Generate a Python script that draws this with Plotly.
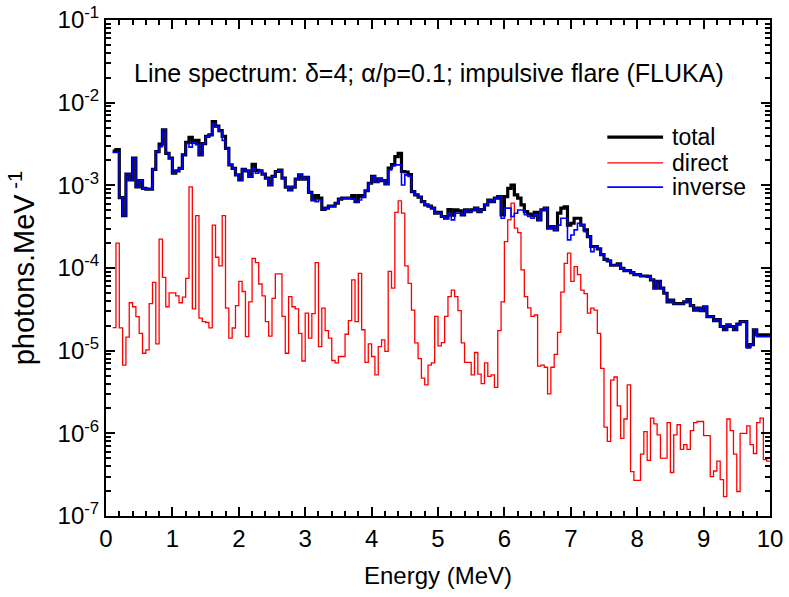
import numpy as np
import plotly.graph_objects as go

# bins of 0.05 MeV starting at 0.10 MeV
E_START = 0.10
E_STEP = 0.05

total = [
    2.6e-3, 2.7e-3, 7.1e-4, 4.3e-4, 1.37e-3, 1.16e-3, 2.13e-3, 9.6e-4, 1.14e-3, 9.2e-4,
    9.0e-4, 9.0e-4, 1.56e-3, 2.56e-3, 3.16e-3, 4.7e-3, 2.44e-3, 2.13e-3, 1.4e-3, 1.5e-3,
    1.6e-3, 2.33e-3, 3.3e-3, 3.8e-3, 3.3e-3, 3.5e-3, 2.33e-3, 3.2e-3, 3.9e-3, 4.07e-3,
    5.9e-3, 5.2e-3, 4.6e-3, 3.9e-3, 2.8e-3, 1.77e-3, 1.6e-3, 1.34e-3, 1.16e-3, 1.56e-3,
    1.5e-3, 1.28e-3, 1.8e-3, 1.52e-3, 1.5e-3, 1.37e-3, 1.22e-3, 1.01e-3, 1.28e-3, 1.47e-3,
    1.53e-3, 1.22e-3, 9.5e-4, 8.8e-4, 9.5e-4, 1.19e-3, 1.34e-3, 1.19e-3, 1.25e-3, 8.2e-4,
    6.65e-4, 7.5e-4, 7.0e-4, 5.1e-4, 5.3e-4, 5.6e-4, 5.6e-4, 6.07e-4, 6.8e-4, 7.0e-4,
    7.0e-4, 7.0e-4, 7.5e-4, 6.35e-4, 7.5e-4, 7.3e-4, 8.6e-4, 1.06e-3, 1.28e-3, 1.11e-3,
    1.2e-3, 1.14e-3, 1.04e-3, 1.62e-3, 1.78e-3, 2.22e-3, 2.44e-3, 1.47e-3, 1.45e-3, 1.35e-3,
    8.4e-4, 7.65e-4, 7.2e-4, 6.35e-4, 5.8e-4, 5.6e-4, 5.3e-4, 4.6e-4, 4.7e-4, 4.2e-4,
    4.0e-4, 5.1e-4, 4.35e-4, 5.05e-4, 4.9e-4, 4.4e-4, 5.04e-4, 4.8e-4, 5.04e-4, 5.3e-4,
    4.8e-4, 5.1e-4, 5.8e-4, 6.65e-4, 6.35e-4, 7.0e-4, 7.3e-4, 4.4e-4, 7.3e-4, 9.2e-4,
    1.01e-3, 7.65e-4, 7.0e-4, 5.8e-4, 4.8e-4, 4.5e-4, 4.3e-4, 4.7e-4, 3.82e-4, 5.04e-4,
    5.3e-4, 3.03e-4, 3.17e-4, 2.89e-4, 4.6e-4, 5.3e-4, 5.5e-4, 3.3e-4, 3.48e-4, 4.0e-4,
    4.0e-4, 3.3e-4, 2.89e-4, 2.4e-4, 1.82e-4, 1.82e-4, 1.7e-4, 1.45e-4, 1.27e-4, 1.22e-4,
    1.08e-4, 1.08e-4, 1.12e-4, 9.9e-5, 9.3e-5, 9.3e-5, 8.8e-5, 8.3e-5, 8.3e-5, 8.0e-5,
    8.0e-5, 7.9e-5, 7.2e-5, 5.7e-5, 6.9e-5, 5.7e-5, 4.95e-5, 3.9e-5, 4.1e-5, 3.7e-5,
    3.7e-5, 3.7e-5, 3.9e-5, 4.15e-5, 3.5e-5, 3.1e-5, 3.27e-5, 3.05e-5, 3.4e-5, 2.58e-5,
    2.58e-5, 2.31e-5, 2.38e-5, 1.96e-5, 1.79e-5, 2.05e-5, 1.96e-5, 1.79e-5, 2.1e-5, 2.25e-5,
    2.25e-5, 1.12e-5, 1.18e-5, 1.79e-5, 1.55e-5, 1.55e-5, 1.55e-5, 1.55e-5,
]

direct = [
    1.9e-5, 2.0e-4, 1.89e-5, 6.7e-6, 1.46e-5, 3.8e-5, 3.4e-5, 2.58e-5, 1.62e-5, 9.3e-6,
    1.02e-5, 3.7e-5, 6.7e-5, 1.21e-5, 2.23e-4, 7.7e-5, 3.4e-5, 5.0e-5, 5.0e-5, 4.6e-5,
    3.8e-5, 4.45e-5, 7.5e-5, 9.6e-4, 3.2e-5, 4.3e-4, 2.47e-5, 2.25e-5, 2.19e-5, 1.89e-5,
    3.3e-4, 1.35e-4, 1.06e-4, 4.3e-4, 3.27e-5, 1.42e-5, 1.88e-5, 3.5e-5, 6.9e-5, 5.2e-5,
    1.48e-5, 3.9e-5, 1.31e-4, 1.16e-4, 6.4e-5, 4.6e-5, 2.25e-5, 1.5e-5, 4.3e-5, 8.5e-5,
    8.5e-5, 2.6e-5, 9.3e-6, 4.5e-5, 3.4e-5, 3.2e-5, 1.62e-5, 7.5e-6, 2.84e-5, 1.42e-5,
    2.8e-5, 1.16e-4, 1.12e-5, 3.27e-5, 1.75e-5, 1.42e-5, 7.6e-6, 7.1e-6, 8.5e-6, 8.5e-6,
    1.58e-5, 2.31e-5, 7.2e-5, 2.25e-5, 8.6e-5, 1.79e-5, 7.2e-6, 1.21e-5, 8.5e-6, 5.1e-6,
    1.12e-5, 1.35e-5, 9.8e-6, 9.1e-5, 5.7e-5, 4.7e-4, 6.5e-4, 4.6e-4, 1.06e-4, 6.5e-5,
    3.1e-5, 1.24e-5, 8.0e-6, 4.65e-6, 3.86e-6, 6.7e-6, 7.1e-6, 2.6e-5, 1.14e-5, 1.25e-5,
    2.6e-5, 4.5e-5, 5.4e-5, 4.5e-5, 3.05e-5, 1.24e-5, 7.2e-6, 7.2e-6, 5.1e-6, 9.5e-6,
    5.2e-6, 4.0e-6, 7.1e-6, 4.9e-6, 5.1e-6, 3.6e-6, 1.75e-5, 3.9e-5, 2.08e-4, 3.82e-4,
    6.1e-4, 3.03e-4, 2.68e-4, 9.5e-5, 4.5e-5, 3.3e-5, 2.6e-5, 2.7e-5, 6.5e-6, 6.7e-6,
    6.3e-6, 3.0e-6, 6.3e-6, 9.0e-6, 1.66e-5, 5.1e-5, 1.14e-4, 1.51e-4, 6.9e-5, 1.04e-4,
    8.3e-5, 5.4e-5, 4.9e-5, 2.84e-5, 3.27e-5, 3.1e-5, 1.62e-5, 6.1e-6, 1.19e-6, 8.0e-7,
    4.4e-6, 4.8e-6, 2.15e-6, 8.7e-7, 1.49e-6, 3.86e-6, 3.45e-7, 2.7e-7, 2.7e-7, 5.6e-7,
    1.05e-6, 4.7e-7, 1.53e-6, 1.3e-6, 9.6e-7, 5.0e-7, 5.0e-7, 1.35e-6, 3.36e-7, 9.6e-7,
    1.27e-6, 6.4e-7, 7.3e-7, 6.4e-7, 1.08e-6, 1.35e-6, 1.39e-6, 1.39e-6, 9.4e-7, 9.4e-7,
    3.0e-7, 3.5e-7, 4.6e-7, 2.75e-7, 1.72e-7, 1.49e-6, 1.08e-6, 5.6e-7, 1.98e-7, 1.0e-6,
    1.0e-6, 1.23e-6, 7.3e-7, 5.7e-7, 1.35e-6, 1.53e-6, 4.8e-7, 4.6e-7,
]

inverse = [
    2.5e-3, 2.5e-3, 7.1e-4, 4.3e-4, 1.37e-3, 1.16e-3, 2.13e-3, 9.6e-4, 1.14e-3, 9.2e-4,
    9.0e-4, 9.0e-4, 1.56e-3, 2.56e-3, 2.94e-3, 4.7e-3, 2.44e-3, 2.13e-3, 1.4e-3, 1.5e-3,
    1.6e-3, 2.33e-3, 3.2e-3, 2.9e-3, 3.3e-3, 3.1e-3, 2.33e-3, 3.2e-3, 3.9e-3, 4.07e-3,
    5.6e-3, 5.1e-3, 4.5e-3, 3.5e-3, 2.8e-3, 1.77e-3, 1.6e-3, 1.34e-3, 1.16e-3, 1.56e-3,
    1.5e-3, 1.28e-3, 1.6e-3, 1.4e-3, 1.5e-3, 1.37e-3, 1.22e-3, 1.01e-3, 1.28e-3, 1.47e-3,
    1.53e-3, 1.22e-3, 9.5e-4, 8.8e-4, 9.5e-4, 1.19e-3, 1.34e-3, 1.19e-3, 1.25e-3, 8.2e-4,
    6.65e-4, 6.35e-4, 6.65e-4, 5.1e-4, 5.3e-4, 5.6e-4, 5.6e-4, 6.07e-4, 6.8e-4, 7.0e-4,
    7.0e-4, 7.0e-4, 6.8e-4, 6.35e-4, 6.65e-4, 7.3e-4, 8.6e-4, 1.06e-3, 1.28e-3, 1.11e-3,
    1.2e-3, 1.14e-3, 1.04e-3, 1.53e-3, 1.72e-3, 1.77e-3, 1.77e-3, 1.01e-3, 1.34e-3, 1.28e-3,
    8.4e-4, 7.65e-4, 7.2e-4, 6.35e-4, 5.8e-4, 5.6e-4, 5.3e-4, 4.6e-4, 4.7e-4, 4.2e-4,
    4.0e-4, 4.6e-4, 3.82e-4, 4.6e-4, 4.6e-4, 4.4e-4, 5.04e-4, 4.8e-4, 5.04e-4, 5.3e-4,
    4.8e-4, 5.1e-4, 5.8e-4, 6.65e-4, 6.35e-4, 7.0e-4, 7.3e-4, 4.0e-4, 5.3e-4, 5.3e-4,
    4.2e-4, 4.6e-4, 5.04e-4, 5.04e-4, 4.4e-4, 4.2e-4, 4.0e-4, 4.4e-4, 3.82e-4, 5.04e-4,
    5.3e-4, 3.03e-4, 3.17e-4, 2.89e-4, 3.3e-4, 4.0e-4, 4.0e-4, 2.19e-4, 2.51e-4, 2.89e-4,
    3.48e-4, 3.3e-4, 2.75e-4, 2.4e-4, 1.58e-4, 1.82e-4, 1.7e-4, 1.45e-4, 1.27e-4, 1.22e-4,
    1.08e-4, 1.08e-4, 1.12e-4, 9.9e-5, 9.3e-5, 9.3e-5, 8.8e-5, 8.3e-5, 8.3e-5, 8.0e-5,
    8.0e-5, 7.9e-5, 7.2e-5, 5.7e-5, 6.9e-5, 5.7e-5, 4.95e-5, 3.9e-5, 4.1e-5, 3.7e-5,
    3.7e-5, 3.7e-5, 3.9e-5, 4.15e-5, 3.5e-5, 3.1e-5, 3.27e-5, 3.05e-5, 3.4e-5, 2.58e-5,
    2.58e-5, 2.31e-5, 2.38e-5, 1.96e-5, 1.79e-5, 2.05e-5, 1.96e-5, 1.79e-5, 2.1e-5, 2.25e-5,
    2.25e-5, 1.08e-5, 1.18e-5, 1.79e-5, 1.48e-5, 1.48e-5, 1.48e-5, 1.48e-5,
]

y_decades = [1e-7, 1e-6, 1e-5, 1e-4, 1e-3, 1e-2, 1e-1]
y_ticktext = ["10<sup>-7</sup>", "10<sup>-6</sup>", "10<sup>-5</sup>", "10<sup>-4</sup>",
              "10<sup>-3</sup>", "10<sup>-2</sup>", "10<sup>-1</sup>"]

FONT = "Liberation Sans, Arial, sans-serif"

series = [("total", total, "black", 3.2),
          ("direct", direct, "#ff0000", 1.3),
          ("inverse", inverse, "#0000ff", 1.6)]


def steps(values):
    # bin edges + repeat last value so the final bin is drawn to its right edge
    edges = np.round(E_START + E_STEP * np.arange(len(values) + 1), 3)
    return edges, list(values) + [values[-1]]


fig = go.Figure()
for name, vals, color, width in series:
    x, y = steps(vals)
    fig.add_trace(go.Scatter(x=x, y=y, mode="lines", name=name, line_shape="hv",
                             line=dict(color=color, width=width), showlegend=False))

axis_common = dict(
    showline=True, linewidth=2, linecolor="black", mirror="ticks",
    ticks="inside", ticklen=9, tickwidth=1.5, tickcolor="black",
    showgrid=False, zeroline=False, automargin=False, ticklabeloverflow="allow",
    tickfont=dict(family=FONT, size=24, color="black"),
)

fig.update_xaxes(
    range=[0, 10], dtick=1, tick0=0,
    minor=dict(dtick=0.2, ticks="inside", ticklen=5, tickwidth=1.5, tickcolor="black"),
    title=dict(text="Energy (MeV)", font=dict(family=FONT, size=24, color="black"), standoff=16),
    **axis_common,
)
fig.update_yaxes(
    type="log", range=[-7, -1], tickmode="array", tickvals=y_decades, ticktext=y_ticktext,
    minor=dict(tickvals=[m * d for d in y_decades[:-1] for m in range(2, 10)],
               ticks="inside", ticklen=5, tickwidth=1.5, tickcolor="black"),
    title=dict(text="photons.MeV<sup> -1</sup>", font=dict(family=FONT, size=29, color="black"),
               standoff=14),
    **axis_common,
)

fig.add_annotation(
    text="Line spectrum: \u03b4=4; \u03b1/p=0.1; impulsive flare (FLUKA)",
    xref="paper", yref="paper", x=0.487, y=0.925, showarrow=False,
    font=dict(family=FONT, size=25, color="black"),
)

# legend drawn in the top-right corner: short line sample + label
legend_rows = [0.764, 0.712, 0.663]
for (name, _, color, width), ly in zip(series, legend_rows):
    fig.add_shape(type="line", xref="paper", yref="paper", x0=0.755, x1=0.839, y0=ly, y1=ly,
                  line=dict(color=color, width=width))
    fig.add_annotation(text=name, xref="paper", yref="paper", x=0.849, y=ly,
                       xanchor="left", yanchor="middle", showarrow=False,
                       font=dict(family=FONT, size=23, color="black"))

fig.update_layout(
    width=789, height=597,
    paper_bgcolor="white", plot_bgcolor="white",
    margin=dict(l=106, r=19, t=20, b=81),
)

# drop the page's default body margin so the figure sits at the window's top-left corner
fig.write_html("out.html", config={"displayModeBar": False},
               post_script="document.body.style.margin='0';")
